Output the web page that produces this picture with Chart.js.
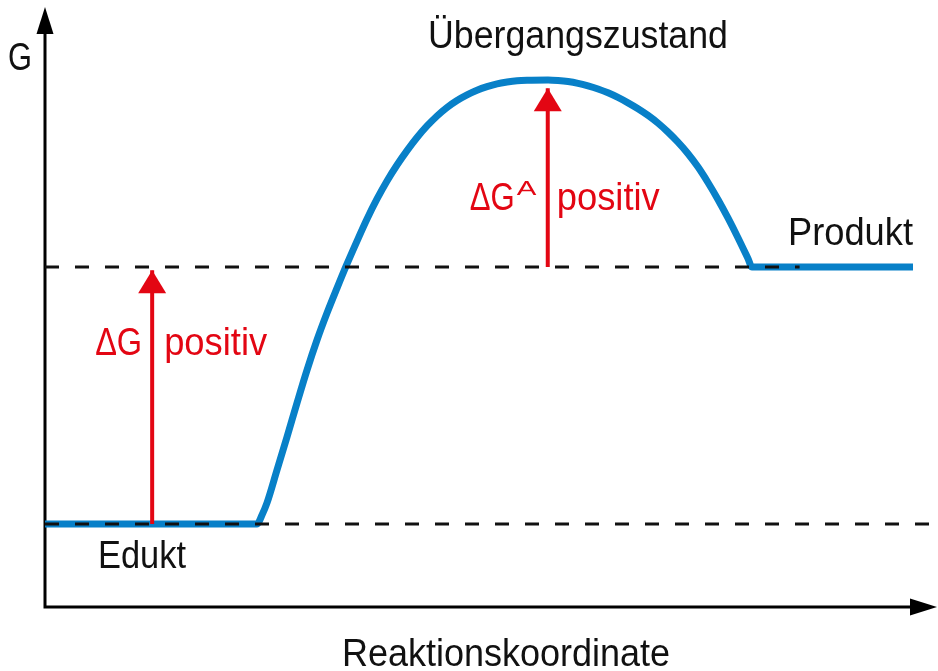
<!DOCTYPE html>
<html lang="de">
<head>
<meta charset="UTF-8">
<title>Energiediagramm</title>
<script src="https://cdn.jsdelivr.net/npm/chart.js"></script>
<style>
    body { margin: 0; background: #fff; }
    .chartBox { width: 938px; height: 671px; }
</style>
</head>
<body>
<div class="chartBox">
    <canvas id="diagram"></canvas>
</div>
<script>
// Reaktionskoordinate (willkürliche Einheiten) und freie Enthalpie G
const reactionX = [0, 2.374, 2.430, 2.486, 2.598, 2.710, 2.822, 2.934, 3.046, 3.158, 3.270, 3.382,
                   3.494, 3.606, 3.718, 3.830, 3.942, 4.054, 4.166, 4.278, 4.390, 4.502, 4.614,
                   4.726, 4.838, 4.950, 5.062, 5.174, 5.286, 5.398, 5.633,
                   5.745, 5.857, 5.969, 6.081, 6.193, 6.305, 6.416, 6.529, 6.641, 6.753, 6.865,
                   6.977, 7.088, 7.201, 7.313, 7.424, 7.536, 7.648, 7.760, 7.872, 7.917, 9.720];
const energyG   = [0, 0, 3.5, 8.2, 21.0, 33.9, 47.1, 59.9, 71.6, 82.1, 91.8, 101.2,
                   110.1, 118.7, 126.5, 133.5, 139.7, 145.3, 150.4, 154.9, 158.8, 162.1, 164.8,
                   167.0, 168.8, 170.2, 171.3, 172.0, 172.5, 172.7, 172.8,
                   172.6, 172.2, 171.5, 170.5, 169.3, 167.8, 166.0, 163.9, 161.6, 159.0, 156.0,
                   152.5, 148.6, 144.1, 138.9, 132.9, 126.3, 119.1, 111.4, 103.3, 100, 100];

const eduktLevel = 0;
const produktLevel = 100;
const peakLevel = 172.8;
const eduktLineX = [0, 10];
const produktLineX = [0, 8.45];

// Pfeile: x-Position, Startwert und Spitze
const arrowDG = { x: 1.2, from: 0, to: 98.8 };
const arrowDGA = { x: 5.63, from: 100, to: 169.6 };

const labels = {
    yAxis: "G",
    xAxis: "Reaktionskoordinate",
    transition: "Übergangszustand",
    product: "Produkt",
    educt: "Edukt",
    dG: "ΔG",
    dGAsup: "A",
    positive: "positiv"
};

const FONT = '"Liberation Sans", Arial, sans-serif';
const RED = "#e30613";
const BLUE = "#0880c8";

const curve = reactionX.map((x, i) => ({ x: x, y: energyG[i] }));

const data = {
    datasets: [
        {
            label: "Edukt-Niveau",
            data: eduktLineX.map(x => ({ x: x, y: eduktLevel })),
            borderColor: "#111",
            borderWidth: 3,
            borderDash: [14, 16],
            pointRadius: 0,
            order: 0
        },
        {
            label: "Produkt-Niveau",
            data: produktLineX.map(x => ({ x: x, y: produktLevel })),
            borderColor: "#111",
            borderWidth: 3,
            borderDash: [14, 16],
            pointRadius: 0,
            order: 0
        },
        {
            label: "ΔG",
            data: [{ x: arrowDG.x, y: arrowDG.from }, { x: arrowDG.x, y: arrowDG.to }],
            borderColor: RED,
            borderWidth: 4,
            pointRadius: 0,
            arrow: true,
            order: 1
        },
        {
            label: "ΔGA",
            data: [{ x: arrowDGA.x, y: arrowDGA.from }, { x: arrowDGA.x, y: arrowDGA.to }],
            borderColor: RED,
            borderWidth: 4,
            pointRadius: 0,
            arrow: true,
            order: 1
        },
        {
            label: "G",
            data: curve,
            borderColor: BLUE,
            borderWidth: 7,
            pointRadius: 0,
            cubicInterpolationMode: "monotone",
            borderJoinStyle: "round",
            order: 2
        }
    ]
};

// Achsen, Pfeilspitzen und Beschriftung
const diagramDecor = {
    id: "diagramDecor",
    beforeDatasetsDraw(chart) {
        const { ctx, chartArea: { left, right, top, bottom } } = chart;
        ctx.save();
        ctx.strokeStyle = "#000";
        ctx.fillStyle = "#000";
        ctx.lineWidth = 3;
        ctx.beginPath();
        ctx.moveTo(left, top + 20);
        ctx.lineTo(left, bottom);
        ctx.lineTo(right - 20, bottom);
        ctx.stroke();
        // y-Pfeil
        ctx.beginPath();
        ctx.moveTo(left, top);
        ctx.lineTo(left - 8.5, top + 27);
        ctx.lineTo(left + 8.5, top + 27);
        ctx.closePath();
        ctx.fill();
        // x-Pfeil
        ctx.beginPath();
        ctx.moveTo(right - 1, bottom);
        ctx.lineTo(right - 28, bottom - 8.5);
        ctx.lineTo(right - 28, bottom + 8.5);
        ctx.closePath();
        ctx.fill();
        ctx.restore();
    },
    afterDatasetsDraw(chart) {
        const { ctx, scales: { x, y } } = chart;
        ctx.save();
        // Pfeilspitzen
        chart.data.datasets.forEach((ds, i) => {
            if (!ds.arrow) return;
            const pts = chart.getDatasetMeta(i).data;
            const tip = pts[pts.length - 1];
            ctx.fillStyle = ds.borderColor;
            ctx.beginPath();
            ctx.moveTo(tip.x, tip.y);
            ctx.lineTo(tip.x - 14, tip.y + 23);
            ctx.lineTo(tip.x + 14, tip.y + 23);
            ctx.closePath();
            ctx.fill();
        });

        ctx.font = "38px " + FONT;
        ctx.textBaseline = "alphabetic";
        ctx.textAlign = "left";
        ctx.fillStyle = "#111";

        ctx.fillText(labels.yAxis, 8, 70, 24);
        ctx.fillText(labels.transition, 428, y.getPixelForValue(peakLevel) - 32, 300);
        ctx.fillText(labels.xAxis, 342, 666, 328);
        ctx.fillText(labels.product, 788, y.getPixelForValue(produktLevel) - 22, 125);
        ctx.fillText(labels.educt, 98, y.getPixelForValue(eduktLevel) + 44, 88);

        // rote Beschriftung
        ctx.fillStyle = RED;
        const ax1 = x.getPixelForValue(arrowDG.x);
        const ax2 = x.getPixelForValue(arrowDGA.x);
        ctx.textAlign = "right";
        ctx.fillText(labels.dG, ax1 - 10, 355, 47);
        ctx.fillText(labels.dG, ax2 - 33, 210, 45);
        ctx.textAlign = "left";
        ctx.fillText(labels.positive, ax1 + 12, 355, 103);
        ctx.fillText(labels.positive, ax2 + 9, 210, 103);

        // hochgestelltes A
        ctx.save();
        ctx.translate(ax2 - 31, 195);
        ctx.scale(1.4, 1);
        ctx.font = "21px " + FONT;
        ctx.fillText(labels.dGAsup, 0, 0);
        ctx.restore();

        ctx.restore();
    }
};

const config = {
    type: "line",
    data,
    options: {
        responsive: true,
        maintainAspectRatio: false,
        animation: false,
        layout: { padding: { left: 45, right: 0, top: 7, bottom: 64 } },
        scales: {
            x: { type: "linear", min: 0, max: 10, display: false },
            y: { type: "linear", min: -32.3, max: 201.2, display: false }
        },
        plugins: {
            legend: { display: false },
            tooltip: { enabled: false }
        }
    },
    plugins: [diagramDecor]
};

new Chart(document.getElementById("diagram"), config);
</script>
</body>
</html>
